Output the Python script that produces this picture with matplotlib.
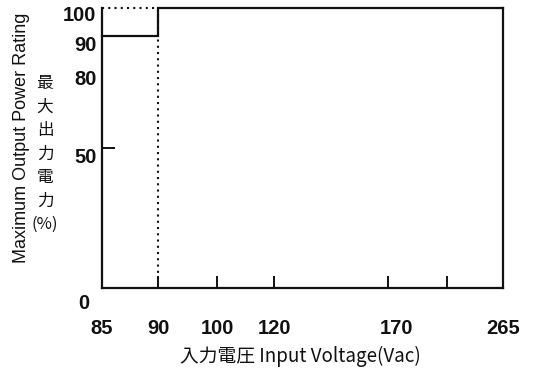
import numpy as np
import matplotlib
matplotlib.use('Agg')
import matplotlib.pyplot as plt
from matplotlib.transforms import ScaledTranslation

# data
volt = [85, 90, 90, 265]
power = [90, 90, 100, 100]
volt_dotted = [85, 90, 90]
power_dotted = [100, 100, 0]

x_ticks = [85, 90, 100, 120, 170, 200, 265]
x_tick_labels = ['85', '90', '100', '120', '170', '', '265']
y_ticks = [0, 50, 80, 90, 100]
y_tick_labels = ['0', '50', '80', '90', '100']

# the x axis of the original is not to scale: place ticks where they sit
x_frac = [0.0, 0.14, 0.287, 0.429, 0.713, 0.86, 1.0]

def fwd(x):
    return np.interp(x, x_ticks, x_frac)

def inv(p):
    return np.interp(p, x_frac, x_ticks)

plt.rcParams['font.family'] = ['Liberation Sans', 'DejaVu Sans']
cjk = ['Noto Sans CJK JP', 'DejaVu Sans']
ink = '#111111'

fig = plt.figure(figsize=(5.35, 3.71), dpi=100)
ax = fig.add_axes([0.1907, 0.2237, 0.7496, 0.754])
ax.set_xscale('function', functions=(fwd, inv))
ax.set_xlim(85, 265)
ax.set_ylim(0, 100)

ax.plot(volt, power, color=ink, lw=1.6, solid_joinstyle='miter', clip_on=False)
ax.plot(volt_dotted, power_dotted, color=ink, lw=1.5, ls=(0, (1, 2)), clip_on=False)

for side in ['left', 'bottom', 'right']:
    ax.spines[side].set_linewidth(1.6)
    ax.spines[side].set_color(ink)
ax.spines['top'].set_visible(False)

ax.set_xticks(x_ticks)
ax.set_xticklabels(x_tick_labels, fontweight='bold')
ax.xaxis.set_minor_locator(plt.NullLocator())
ax.tick_params(axis='x', direction='in', length=9, width=1.4, color=ink,
               pad=22, labelsize=14.5, labelcolor=ink)

ax.set_yticks(y_ticks)
ax.set_yticklabels(y_tick_labels, fontweight='bold')
ax.tick_params(axis='y', direction='in', length=0, width=1.4, color=ink,
               pad=4, labelsize=14.5, labelcolor=ink)
for t, v in zip(ax.yaxis.get_major_ticks(), y_ticks):
    if v == 50:
        t.tick1line.set_markersize(9)

# nudge labels to where the original prints them (pixels)
def nudge(lbl, dx, dy):
    lbl.set_transform(lbl.get_transform() +
                      ScaledTranslation(dx / 100, -dy / 100, fig.dpi_scale_trans))

y_shift = {0: (-7, 13), 50: (0, 7), 80: (0, 13), 90: (0, 7), 100: (0, 5)}
for lbl, v in zip(ax.get_yticklabels(), y_ticks):
    nudge(lbl, *y_shift[v])
for lbl, v in zip(ax.get_xticklabels(), x_ticks):
    if v == 170:
        nudge(lbl, 9, 0)

fig.text(0.041, 0.628, 'Maximum Output Power Rating', rotation=90,
         ha='center', va='center', fontsize=13, color=ink)
fig.text(0.084, 0.585, '最\n大\n出\n力\n電\n力\n(%)', ha='center', va='center',
         fontsize=12, linespacing=1.5, family=cjk, color=ink)
fig.text(0.561, 0.038, '入力電圧 Input Voltage(Vac)', ha='center', va='center',
         fontsize=13.5, family=cjk, color=ink)

fig.savefig('out.png', dpi=100)
